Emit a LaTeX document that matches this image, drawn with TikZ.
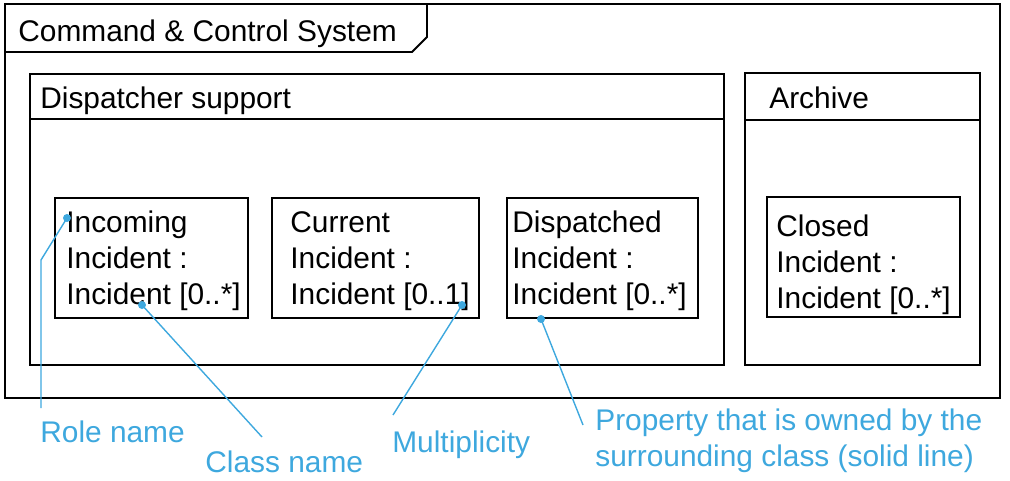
\documentclass[tikz,border=0pt]{standalone}
\usepackage{fontspec}
\setmainfont{Liberation Sans}
\usetikzlibrary{positioning}
\definecolor{noteblue}{RGB}{62,168,222}

\begin{document}
\begin{tikzpicture}[
    x=0.02cm, y=-0.02cm,
    every node/.style={font=\fontsize{17}{20.5}\selectfont, inner sep=0pt},
    frame/.style={draw, line width=1.1pt},
    part/.style={frame, minimum height=2.4cm},
    parttext/.style={align=left, anchor=west},
    note/.style={text=noteblue, align=left, anchor=west},
    pointer/.style={draw=noteblue, line width=0.8pt},
    dot/.style={circle, fill=noteblue, minimum size=0.16cm}
]
\useasboundingbox (0,0) rectangle (1010,480);

% system frame with its name tab
\draw[frame] (5,4) rectangle (1000,398);
\draw[frame] (5,52) -- (412,52) -- (427,37) -- (427,4);
\node[anchor=west] (system) at (18,34) {Command \& Control System};

% packages
\draw[frame] (30,74) rectangle (724,365);
\draw[frame] (30,119) -- (724,119);
\node[anchor=west] (dispatcher) at (40,101) {Dispatcher support};

\draw[frame] (745,73) rectangle (980,365);
\draw[frame] (745,120) -- (980,120);
\node[anchor=west] (archive) at (769,98) {Archive};

% parts
\node[part, minimum width=3.86cm] (incoming) at (151.5,258) {};
\node[parttext, right=0.24cm of incoming.west, yshift=-0.06cm] (incomingtxt) {Incoming\\Incident :\\Incident [0..*]};

\node[part, minimum width=4.14cm] (current) at (375.5,258) {};
\node[parttext, right=0.38cm of current.west, yshift=-0.06cm] (currenttxt) {Current\\Incident :\\Incident [0..1]};

\node[part, minimum width=3.82cm] (dispatched) at (602.5,258) {};
\node[parttext, right=0.12cm of dispatched.west, yshift=-0.06cm] (dispatchedtxt) {Dispatched\\Incident :\\Incident [0..*]};

\node[part, minimum width=3.86cm] (closed) at (863.5,257) {};
\node[parttext, right=0.2cm of closed.west, yshift=-0.16cm] (closedtxt) {Closed\\Incident :\\Incident [0..*]};

% callouts
\node[note] (rolelbl) at (40,432) {Role name};
\node[note] (classlbl) at (205,462) {Class name};
\node[note] (multlbl) at (392,445) {Multiplicity};
\node[note] (proplbl) at (595,441) {Property that is owned by the\\surrounding class (solid line)};

\node[dot] (roledot) at (67,218) {};
\node[dot] (classdot) at (142,305) {};
\node[dot] (multdot) at (462,305) {};
\node[dot] (propdot) at (541,319) {};

\coordinate (rolebend) at (41,260);
\coordinate (roleend) at (41,408);
\coordinate (classend) at (262,437);
\coordinate (multend) at (393,415);
\coordinate (propend) at (583,425);

\draw[pointer] (roledot.center) -- (rolebend) -- (roleend);
\draw[pointer] (classdot.center) -- (classend);
\draw[pointer] (multdot.center) -- (multend);
\draw[pointer] (propdot.center) -- (propend);
\end{tikzpicture}
\end{document}
